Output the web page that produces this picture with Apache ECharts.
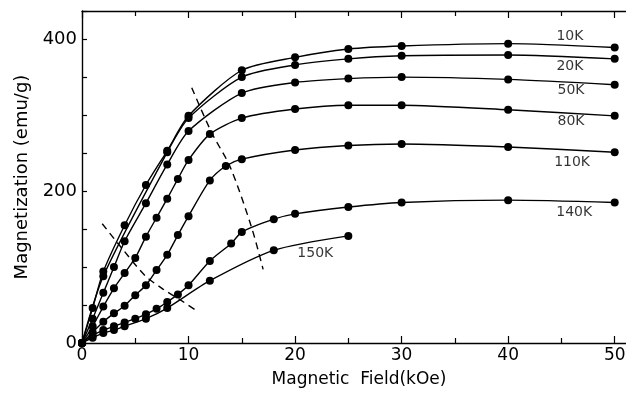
<!DOCTYPE html>
<html>
<head>
<meta charset="utf-8">
<script src="https://cdn.jsdelivr.net/npm/echarts@6/dist/echarts.min.js"></script>
<style>
html,body{margin:0;padding:0;background:#fff;}
#c{width:626px;height:394px;}
</style>
</head>
<body>
<div id="c"></div>
<script>
// Magnetization (emu/g) vs magnetic field (kOe)
const curve10K  = [[0,0],[1,46],[2,94],[4,155],[6,208],[8,253],[10,299],[15,359],[20,376],[25,387],[30,391],[40,394],[50,389]];
const curve20K  = [[0,0],[2,88],[8,251],[10,296],[15,350],[20,366],[25,374],[30,378],[40,379],[50,374]];
const curve50K  = [[0,0],[1,32],[2,66],[3,100],[4,134],[6,184],[8,235],[10,279],[15,329],[20,343],[25,348],[30,350],[40,347],[50,340]];
const curve80K  = [[0,0],[1,22],[2,48],[3,72],[4,92],[5,112],[6,140],[7,165],[8,190],[9,216],[10,241],[12,275],[15,296],[20,308],[25,313],[30,313],[40,307],[50,299]];
const curve110K = [[0,0],[1,14],[2,28],[3,39],[4,49],[5,63],[6,76],[7,96],[8,116],[9,142],[10,167],[12,214],[13.5,233],[15,242],[20,254],[25,260],[30,262],[40,258],[50,251]];
const curve140K = [[0,0],[1,10],[2,17],[3,22],[4,27],[5,32],[6,38],[7,45],[8,54],[9,64],[10,76],[12,108],[14,131],[15,146],[18,163],[20,170],[25,179],[30,185],[40,188],[50,185]];
const curve150K = [[0,0],[1,7],[2,13],[3,17],[4,22],[6,32],[8,46],[12,82],[18,122],[25,141]];
const dashLow  = [[1.9,157],[3.9,122],[5.9,89],[7.6,71],[9.2,57],[10.9,41]];
const dashHigh = [[10.3,336],[12.2,276],[13.9,232],[15.9,153],[17.0,97]];
const curveNames = ['10K','20K','50K','80K','110K','140K','150K'];
const labelPos = [[45.8,403],[45.8,364],[45.9,333],[45.9,292],[46.0,238],[46.2,172],[21.9,118]];
const yTickLabels = [0,200,400];
const xTickLabels = [0,10,20,30,40,50];

const curves = [curve10K,curve20K,curve50K,curve80K,curve110K,curve140K,curve150K];
const FONT = 'DejaVu Sans';
const chart = echarts.init(document.getElementById('c'), null, {renderer:'canvas'});

const series = [];
curves.forEach((d,i)=>{
  series.push({
    type:'line', name:curveNames[i], data:d, xAxisIndex:0, yAxisIndex:0,
    smooth:0.25,
    symbol:'circle', symbolSize:8, showAllSymbol:true,
    itemStyle:{color:'#000'},
    lineStyle:{color:'#000', width:1.4},
    z:3
  });
});
[dashLow,dashHigh].forEach(d=>{
  series.push({
    type:'line', data:d, smooth:0.3, showSymbol:false, symbol:'none',
    lineStyle:{color:'#000', width:1.4, type:[7,5]}, z:2
  });
});
series.push({
  type:'scatter', symbolSize:0,
  data: curveNames.map((n,i)=>({name:n, value:labelPos[i]})),
  label:{show:true, position:'inside', formatter:p=>p.name, color:'#000', fontFamily:FONT, fontSize:14},
  z:4
});

const xBase = {
  type:'value', min:0, max:52, interval:10,
  axisLine:{show:true, onZero:false, lineStyle:{color:'#000', width:1.4}},
  axisTick:{show:true, inside:true, length:7, lineStyle:{color:'#000', width:1.2}},
  minorTick:{show:true, splitNumber:2, length:5, lineStyle:{color:'#000', width:1.2}},
  splitLine:{show:false},
  minorSplitLine:{show:false}
};

chart.setOption({
  animation:false,
  backgroundColor:'#fff',
  grid:{left:82, right:-10, top:11, bottom:51, show:false, outerBoundsMode:'none', containLabel:false},
  xAxis:[
    Object.assign({}, xBase, {
      position:'bottom',
      name:'Magnetic  Field(kOe)', nameLocation:'middle', nameGap:28,
      nameTextStyle:{fontFamily:FONT, fontSize:17, color:'#000'},
      axisLabel:{show:true, fontFamily:FONT, fontSize:17, color:'#000', margin:4,
        formatter:v=> xTickLabels.indexOf(v)>=0 ? String(v) : ''}
    }),
    Object.assign({}, xBase, {
      position:'top', axisLabel:{show:false}
    })
  ],
  yAxis:{
    type:'value', min:0, max:437, interval:50,
    name:'Magnetization (emu/g)', nameLocation:'middle', nameGap:48,
    nameTextStyle:{fontFamily:FONT, fontSize:18, color:'#000'},
    axisLine:{show:true, lineStyle:{color:'#000', width:1.4}},
    axisTick:{show:true, inside:true, length:5, lineStyle:{color:'#000', width:1.2}},
    axisLabel:{fontFamily:FONT, fontSize:18, color:'#000', margin:5,
      formatter:v=> yTickLabels.indexOf(v)>=0 ? String(v) : ''},
    splitLine:{show:false}
  },
  series:series
});
</script>
</body>
</html>
